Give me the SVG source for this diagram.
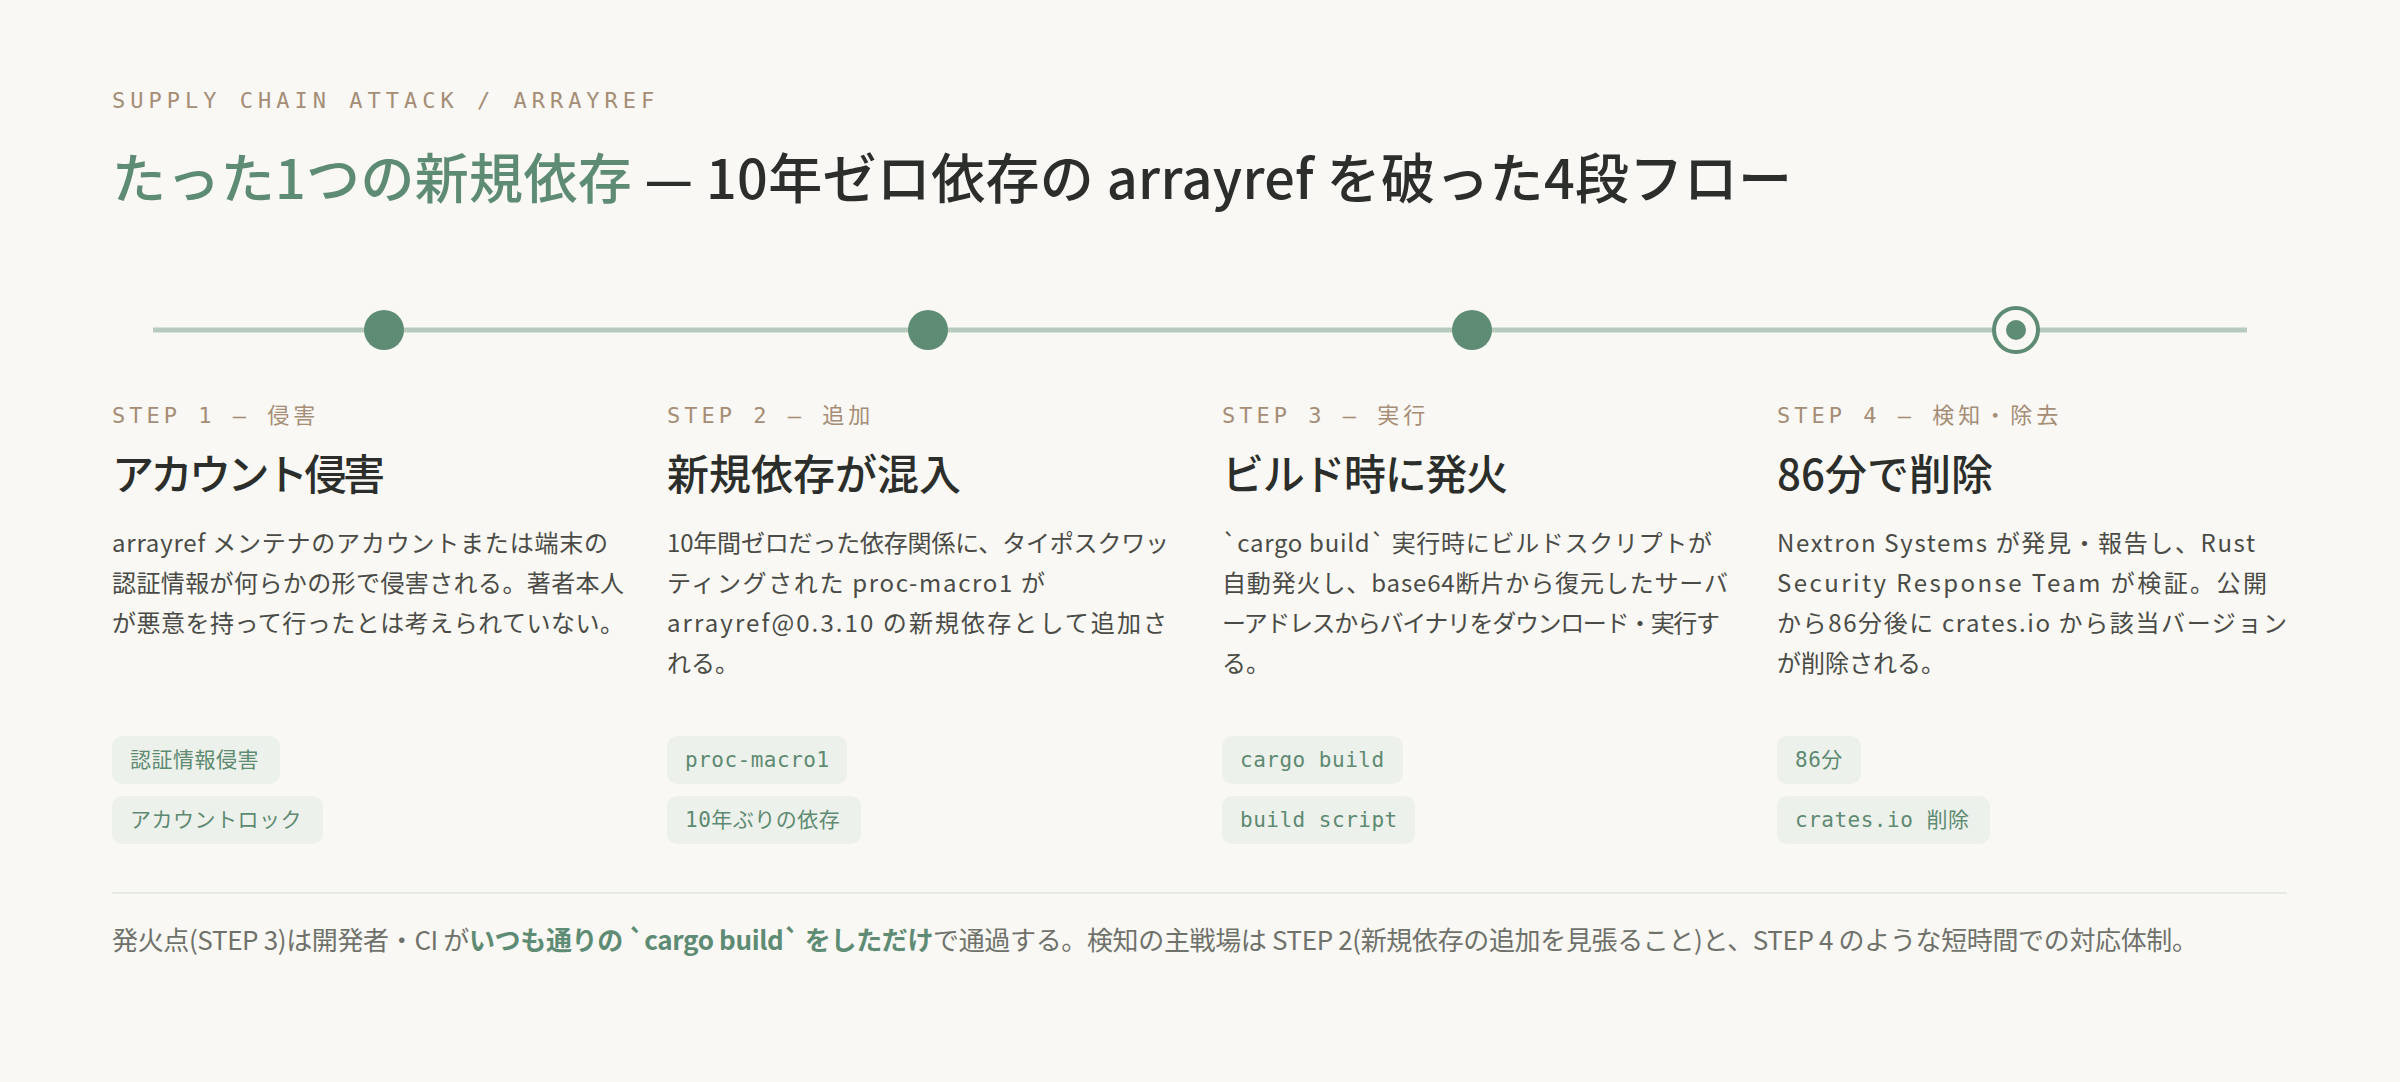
<svg xmlns="http://www.w3.org/2000/svg" width="2400" height="1082" viewBox="0 0 2400 1082">
  <style>
    .kicker { font-family: "DejaVu Sans Mono", "Noto Sans CJK JP", monospace; font-size: 22px; letter-spacing: 5px; fill: #a58d76; }
    .label { font-family: "DejaVu Sans Mono", "Noto Sans CJK JP", monospace; font-size: 22px; letter-spacing: 4px; fill: #a58d76; }
    .title { font-family: "Noto Sans CJK JP", "Noto Sans", sans-serif; font-size: 54px; font-weight: 500; fill: #2b2e2a; }
    .hl { fill: #5e8b73; }
    .stitle { font-family: "Noto Sans CJK JP", "Noto Sans", sans-serif; font-size: 42px; font-weight: 500; fill: #2b2e2a; }
    .body { font-family: "Noto Sans CJK JP", "Noto Sans", sans-serif; font-size: 24px; fill: #4a4b46; }
    .tagbg { fill: #edf1eb; }
    .tag { font-family: "DejaVu Sans Mono", "Noto Sans CJK JP", monospace; font-size: 21px; letter-spacing: 0.5px; fill: #5e8a72; }
    .foot { font-family: "Noto Sans CJK JP", "Noto Sans", sans-serif; font-size: 26px; fill: #6f716b; }
    .footem { fill: #5e8b73; font-weight: 700; }
    .dot { fill: #5e8b73; }
  </style>
  <rect x="0" y="0" width="2400" height="1082" fill="#f9f8f4"/>

  <g id="header">
    <text class="kicker" x="112" y="108">SUPPLY CHAIN ATTACK / ARRAYREF</text>
    <text class="title" x="112" y="199" textLength="1680" lengthAdjust="spacing"><tspan class="hl">たった1つの新規依存</tspan> — 10年ゼロ依存の arrayref を破った4段フロー</text>
  </g>

  <g id="connectors">
    <line x1="153" y1="330" x2="2247" y2="330" stroke="#b6cbbd" stroke-width="5"/>
  </g>

  <g id="step1">
    <circle class="dot" cx="384" cy="330" r="20"/>
    <text class="label" x="112" y="423">STEP 1 — 侵害</text>
    <text class="stitle" x="112" y="490" textLength="273" lengthAdjust="spacing">アカウント侵害</text>
    <text class="body" x="112" y="552" textLength="496" lengthAdjust="spacing">arrayref メンテナのアカウントまたは端末の</text>
    <text class="body" x="112" y="592" textLength="512" lengthAdjust="spacing">認証情報が何らかの形で侵害される。著者本人</text>
    <text class="body" x="112" y="632" textLength="512" lengthAdjust="spacing">が悪意を持って行ったとは考えられていない。</text>
    <rect class="tagbg" x="112" y="736" width="168" height="48" rx="10"/>
    <text class="tag" x="130" y="767">認証情報侵害</text>
    <rect class="tagbg" x="112" y="796" width="211" height="48" rx="10"/>
    <text class="tag" x="130" y="827">アカウントロック</text>
  </g>

  <g id="step2">
    <circle class="dot" cx="928" cy="330" r="20"/>
    <text class="label" x="667" y="423">STEP 2 — 追加</text>
    <text class="stitle" x="667" y="490" textLength="294" lengthAdjust="spacing">新規依存が混入</text>
    <text class="body" x="667" y="552" textLength="502" lengthAdjust="spacing">10年間ゼロだった依存関係に、タイポスクワッ</text>
    <text class="body" x="667" y="592" textLength="378" lengthAdjust="spacing">ティングされた proc-macro1 が</text>
    <text class="body" x="667" y="632" textLength="500" lengthAdjust="spacing">arrayref@0.3.10 の新規依存として追加さ</text>
    <text class="body" x="667" y="672">れる。</text>
    <rect class="tagbg" x="667" y="736" width="180" height="48" rx="10"/>
    <text class="tag" x="685" y="767">proc-macro1</text>
    <rect class="tagbg" x="667" y="796" width="194" height="48" rx="10"/>
    <text class="tag" x="685" y="827">10年ぶりの依存</text>
  </g>

  <g id="step3">
    <circle class="dot" cx="1472" cy="330" r="20"/>
    <text class="label" x="1222" y="423">STEP 3 — 実行</text>
    <text class="stitle" x="1222" y="490" textLength="286" lengthAdjust="spacing">ビルド時に発火</text>
    <text class="body" x="1222" y="552" textLength="490" lengthAdjust="spacing">`cargo build` 実行時にビルドスクリプトが</text>
    <text class="body" x="1222" y="592" textLength="506" lengthAdjust="spacing">自動発火し、base64断片から復元したサーバ</text>
    <text class="body" x="1222" y="632" textLength="498" lengthAdjust="spacing">ーアドレスからバイナリをダウンロード・実行す</text>
    <text class="body" x="1222" y="672">る。</text>
    <rect class="tagbg" x="1222" y="736" width="181" height="48" rx="10"/>
    <text class="tag" x="1240" y="767">cargo build</text>
    <rect class="tagbg" x="1222" y="796" width="193" height="48" rx="10"/>
    <text class="tag" x="1240" y="827">build script</text>
  </g>

  <g id="step4">
    <circle cx="2016" cy="330" r="22" fill="#f9f8f4" stroke="#5e8b73" stroke-width="4"/>
    <circle class="dot" cx="2016" cy="330" r="10"/>
    <text class="label" x="1777" y="423">STEP 4 — 検知・除去</text>
    <text class="stitle" x="1777" y="490">86分で削除</text>
    <text class="body" x="1777" y="552" textLength="478" lengthAdjust="spacing">Nextron Systems が発見・報告し、Rust</text>
    <text class="body" x="1777" y="592" textLength="490" lengthAdjust="spacing">Security Response Team が検証。公開</text>
    <text class="body" x="1777" y="632" textLength="510" lengthAdjust="spacing">から86分後に crates.io から該当バージョン</text>
    <text class="body" x="1777" y="672">が削除される。</text>
    <rect class="tagbg" x="1777" y="736" width="84" height="48" rx="10"/>
    <text class="tag" x="1795" y="767">86分</text>
    <rect class="tagbg" x="1777" y="796" width="213" height="48" rx="10"/>
    <text class="tag" x="1795" y="827">crates.io 削除</text>
  </g>

  <g id="footer">
    <line x1="112" y1="893" x2="2287" y2="893" stroke="#e6eae3" stroke-width="2"/>
    <text class="foot" x="112" y="950" textLength="2086" lengthAdjust="spacing">発火点(STEP 3)は開発者・CI が<tspan class="footem">いつも通りの `cargo build` をしただけ</tspan>で通過する。検知の主戦場は STEP 2(新規依存の追加を見張ること)と、STEP 4 のような短時間での対応体制。</text>
  </g>
</svg>
